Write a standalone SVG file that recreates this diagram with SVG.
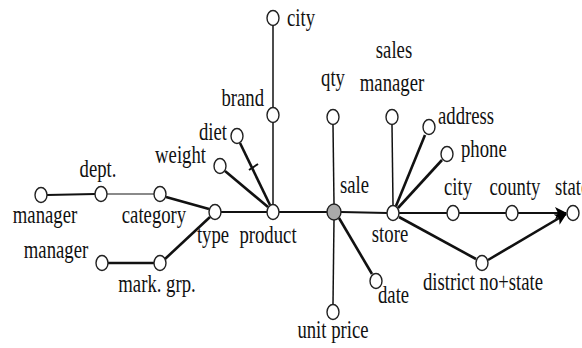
<svg xmlns="http://www.w3.org/2000/svg" width="582" height="348" viewBox="0 0 582 348">
  <style>
    .n { fill: #ffffff; stroke: #222222; stroke-width: 1.4; }
    .hub { fill: #aaaaaa; stroke: #222222; stroke-width: 1.4; }
    .m { text-anchor: middle; }
    .e { text-anchor: end; }
    .thin { stroke: #111111; stroke-width: 1.5; fill: none; }
    .mid { stroke: #111111; stroke-width: 2; fill: none; }
    .thick { stroke: #111111; stroke-width: 2.6; fill: none; }
    .grey { stroke: #8a8a8a; stroke-width: 2; fill: none; }
  </style>
  <defs>
    <marker id="arrow" markerUnits="userSpaceOnUse" markerWidth="12" markerHeight="12" viewBox="0 0 12 12" refX="11" refY="6" orient="auto">
      <path d="M0,0 L12,6 L0,12 L3,6 Z" fill="#000000"/>
    </marker>
  </defs>

  <rect width="582" height="348" fill="#ffffff"/>

  <!-- connectors -->
  <g id="connectors">
    <line class="mid" x1="47" y1="195" x2="95" y2="194"/>
    <line class="grey" x1="107" y1="194" x2="154" y2="194"/>
    <line class="thick" x1="166" y1="197" x2="209" y2="209"/>
    <line class="thick" x1="108" y1="263" x2="154" y2="263"/>
    <line class="thick" x1="165" y1="259" x2="210" y2="217"/>
    <line class="mid" x1="221" y1="212" x2="267" y2="212"/>
    <line class="thick" x1="225" y1="171" x2="268" y2="207"/>
    <line class="thick" x1="240" y1="143" x2="270" y2="205"/>
    <line class="mid" x1="249" y1="170" x2="258" y2="164"/>
    <line class="thin" x1="273" y1="26" x2="273" y2="107"/>
    <line class="thin" x1="273" y1="123" x2="273" y2="204"/>
    <line class="mid" x1="279" y1="212" x2="327" y2="212"/>
    <line class="thin" x1="333" y1="125" x2="334" y2="204"/>
    <line class="thin" x1="334" y1="220" x2="333" y2="304"/>
    <line class="thick" x1="339" y1="218" x2="372" y2="274"/>
    <line class="mid" x1="341" y1="212" x2="387" y2="213"/>
    <line class="thin" x1="392" y1="125" x2="393" y2="205"/>
    <line class="thick" x1="396" y1="206" x2="425" y2="135"/>
    <line class="thick" x1="398" y1="208" x2="442" y2="160"/>
    <line class="mid" x1="399" y1="213" x2="447" y2="213"/>
    <line class="mid" x1="459" y1="213" x2="506" y2="213"/>
    <line class="mid" x1="518" y1="213" x2="566" y2="213" marker-end="url(#arrow)"/>
    <line class="thick" x1="399" y1="217" x2="476" y2="259"/>
    <line class="thick" x1="488" y1="260" x2="566" y2="214" marker-end="url(#arrow)"/>
  </g>

  <!-- nodes; labels share one condensed serif face -->
  <g font-family="'Liberation Serif', 'Times New Roman', Times, 'DejaVu Serif', serif" font-size="26" fill="#111111">
  <g id="manager-dept">
    <ellipse class="n" cx="41" cy="195" rx="6" ry="7.5"/>
    <text class="m" transform="translate(45 223) scale(0.72 1)">manager</text>
  </g>
  <g id="dept">
    <ellipse class="n" cx="101" cy="194" rx="6" ry="7.5"/>
    <text class="m" transform="translate(98 177) scale(0.72 1)">dept.</text>
  </g>
  <g id="category">
    <ellipse class="n" cx="160" cy="194" rx="6" ry="7.5"/>
    <text class="m" transform="translate(154 223) scale(0.72 1)">category</text>
  </g>
  <g id="manager-mark">
    <ellipse class="n" cx="102" cy="263" rx="6" ry="7.5"/>
    <text class="m" transform="translate(56 258) scale(0.72 1)">manager</text>
  </g>
  <g id="mark-grp">
    <ellipse class="n" cx="160" cy="263" rx="6" ry="7.5"/>
    <text class="m" transform="translate(157 292) scale(0.72 1)">mark. grp.</text>
  </g>
  <g id="type">
    <ellipse class="n" cx="215" cy="212" rx="6" ry="7.5"/>
    <text class="m" transform="translate(213 243) scale(0.72 1)">type</text>
  </g>
  <g id="weight">
    <ellipse class="n" cx="220" cy="166" rx="6" ry="7.5"/>
    <text class="e" transform="translate(206 163) scale(0.72 1)">weight</text>
  </g>
  <g id="diet">
    <ellipse class="n" cx="237" cy="136" rx="6" ry="7.5"/>
    <text class="e" transform="translate(227 140) scale(0.72 1)">diet</text>
  </g>
  <g id="brand">
    <ellipse class="n" cx="273" cy="115" rx="6" ry="7.5"/>
    <text class="e" transform="translate(264 106) scale(0.72 1)">brand</text>
  </g>
  <g id="city-brand">
    <ellipse class="n" cx="273" cy="18" rx="6" ry="7.5"/>
    <text transform="translate(287 26) scale(0.72 1)">city</text>
  </g>
  <g id="product">
    <ellipse class="n" cx="273" cy="212" rx="6" ry="7.5"/>
    <text class="m" transform="translate(268 243) scale(0.72 1)">product</text>
  </g>
  <g id="qty">
    <ellipse class="n" cx="333" cy="117" rx="6" ry="7.5"/>
    <text class="m" transform="translate(333 86) scale(0.72 1)">qty</text>
  </g>
  <g id="sale">
    <ellipse class="hub" cx="334" cy="212" rx="7" ry="8"/>
    <text transform="translate(340 193) scale(0.72 1)">sale</text>
  </g>
  <g id="unit-price">
    <ellipse class="n" cx="333" cy="312" rx="6" ry="7.5"/>
    <text class="m" transform="translate(333 338) scale(0.72 1)">unit price</text>
  </g>
  <g id="date">
    <ellipse class="n" cx="376" cy="281" rx="6" ry="7.5"/>
    <text transform="translate(378 303) scale(0.72 1)">date</text>
  </g>
  <g id="sales-manager">
    <ellipse class="n" cx="392" cy="117" rx="6" ry="7.5"/>
    <text class="m" transform="translate(394 58) scale(0.72 1)">sales</text>
    <text class="m" transform="translate(392 91) scale(0.72 1)">manager</text>
  </g>
  <g id="store">
    <ellipse class="n" cx="393" cy="213" rx="6" ry="7.5"/>
    <text class="m" transform="translate(390 242) scale(0.72 1)">store</text>
  </g>
  <g id="address">
    <ellipse class="n" cx="429" cy="127" rx="6" ry="7.5"/>
    <text transform="translate(438 124) scale(0.72 1)">address</text>
  </g>
  <g id="phone">
    <ellipse class="n" cx="447" cy="154" rx="6" ry="7.5"/>
    <text transform="translate(461 157) scale(0.72 1)">phone</text>
  </g>
  <g id="city-store">
    <ellipse class="n" cx="453" cy="213" rx="6" ry="7.5"/>
    <text class="m" transform="translate(458 195) scale(0.72 1)">city</text>
  </g>
  <g id="county">
    <ellipse class="n" cx="512" cy="213" rx="6" ry="7.5"/>
    <text class="m" transform="translate(515 195) scale(0.72 1)">county</text>
  </g>
  <g id="state">
    <ellipse class="n" cx="573" cy="213" rx="6" ry="7.5"/>
    <text transform="translate(555 195) scale(0.72 1)">state</text>
  </g>
  <g id="district">
    <ellipse class="n" cx="482" cy="263" rx="6" ry="7.5"/>
    <text class="m" transform="translate(483 290) scale(0.72 1)">district no+state</text>
  </g>
  </g>
</svg>
